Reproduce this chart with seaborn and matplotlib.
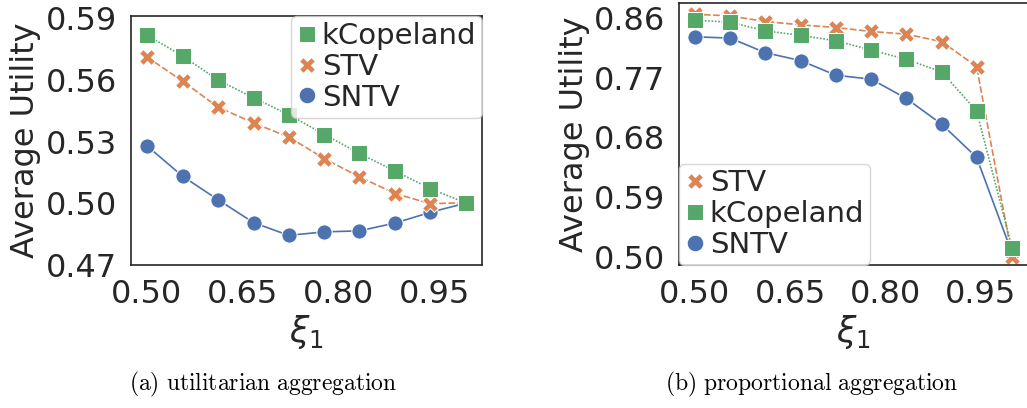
import numpy as np
import pandas as pd
import matplotlib
matplotlib.use("Agg")
import matplotlib.pyplot as plt
from matplotlib.lines import Line2D
import seaborn as sns

# ---- data ----
xi = [0.5, 0.556, 0.611, 0.667, 0.722, 0.778, 0.833, 0.889, 0.944, 1.0]

util_kcopeland = [0.5817, 0.5715, 0.5600, 0.5512, 0.5431, 0.5334, 0.5242, 0.5156, 0.5071, 0.5001]
util_stv = [0.5711, 0.5593, 0.5468, 0.5390, 0.5322, 0.5217, 0.5128, 0.5047, 0.4998, 0.5003]
util_sntv = [0.5279, 0.5131, 0.5018, 0.4906, 0.4844, 0.4861, 0.4866, 0.4904, 0.4956, 0.5001]

prop_stv = [0.866, 0.8635, 0.855, 0.850, 0.846, 0.840, 0.836, 0.8247, 0.787, 0.500]
prop_kcopeland = [0.857, 0.854, 0.841, 0.834, 0.826, 0.812, 0.798, 0.779, 0.720, 0.5127]
prop_sntv = [0.832, 0.830, 0.808, 0.796, 0.774, 0.768, 0.739, 0.700, 0.650, 0.505]

methods = ["SNTV", "STV", "kCopeland"]
left_ticks_y = [0.47, 0.50, 0.53, 0.56, 0.59]
right_ticks_y = [0.50, 0.59, 0.68, 0.77, 0.86]
x_ticks = [0.50, 0.65, 0.80, 0.95]
captions = ["(a) utilitarian aggregation", "(b) proportional aggregation"]


def long_df(sntv, stv, kcop):
    rows = []
    for name, vals in zip(methods, [sntv, stv, kcop]):
        for x, v in zip(xi, vals):
            rows.append({"xi": x, "util": v, "method": name})
    return pd.DataFrame(rows)


df_left = long_df(util_sntv, util_stv, util_kcopeland)
df_right = long_df(prop_sntv, prop_stv, prop_kcopeland)

sns.set_theme(style="white")
plt.rcParams["mathtext.fontset"] = "dejavusans"

palette = dict(zip(methods, sns.color_palette("deep")[:3]))
markers = {"SNTV": "o", "STV": "X", "kCopeland": "s"}
dashes = {"SNTV": "", "STV": (4, 1.5), "kCopeland": (1, 1)}

fig = plt.figure(figsize=(10.27, 4.08), dpi=100)
ax1 = fig.add_axes([131 / 1027, 143 / 408, 351 / 1027, 249 / 408])
ax2 = fig.add_axes([679 / 1027, 143 / 408, 349 / 1027, 262 / 408])

FS = 23
for ax, df in [(ax1, df_left), (ax2, df_right)]:
    sns.lineplot(data=df, x="xi", y="util", hue="method", style="method",
                 hue_order=methods, style_order=methods, palette=palette,
                 markers=markers, dashes=dashes, markersize=11,
                 linewidth=1.2, legend=False, ax=ax)
    ax.set_xlim(0.475, 1.025)
    ax.set_xticks(x_ticks)
    ax.set_xticklabels([f"{t:.2f}" for t in x_ticks])
    ax.tick_params(axis="both", labelsize=FS, length=0, pad=10, colors=".15")
    ax.set_xlabel(r"$\xi_1$", fontsize=FS + 2, labelpad=2)
    ax.set_ylabel("Average Utility", fontsize=FS)
    for sp in ax.spines.values():
        sp.set_color(".15")
        sp.set_linewidth(1.2)

ax1.set_ylim(0.47, 0.591)
ax1.set_yticks(left_ticks_y)
ax1.set_yticklabels([f"{t:.2f}" for t in left_ticks_y])
ax2.set_ylim(0.4875, 0.883)
ax2.set_yticks(right_ticks_y)
ax2.set_yticklabels([f"{t:.2f}" for t in right_ticks_y])

ax1.yaxis.set_label_coords(-0.255, 0.5)
ax2.yaxis.set_label_coords(-0.255, 0.5)


def handles(order):
    return [Line2D([], [], linestyle="none", marker=markers[m], color=palette[m],
                   markeredgecolor="w", markeredgewidth=0.75, markersize=12, label=m)
            for m in order]


leg_kw = dict(fontsize=21, handlelength=0.7, handletextpad=0.15, borderpad=0.2,
              labelspacing=0.1, borderaxespad=0.0, framealpha=0.8)
ax1.legend(handles=handles(["kCopeland", "STV", "SNTV"]), loc="upper right", **leg_kw)
ax2.legend(handles=handles(["STV", "kCopeland", "SNTV"]), loc="lower left", **leg_kw)

plt.rcParams["mathtext.fontset"] = "cm"
for cx, cap in zip([263 / 1027, 812 / 1027], captions):
    fig.text(cx, 1 - 384 / 408, r"$\mathrm{" + cap.replace(" ", r"\ ") + "}$",
             ha="center", va="center", fontsize=17, color="black")

fig.savefig("out.png", dpi=100)
